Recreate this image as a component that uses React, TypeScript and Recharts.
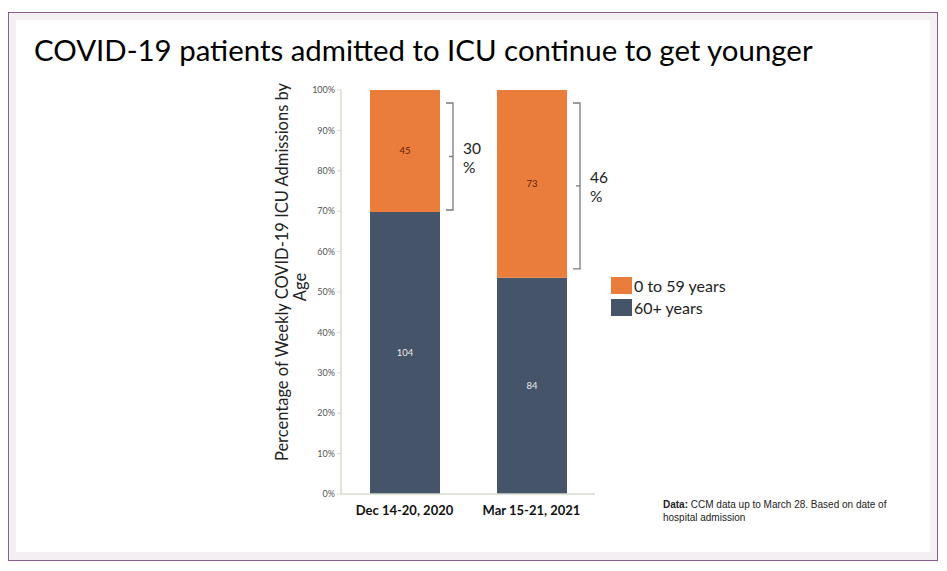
import React from "react";
import { BarChart, Bar, XAxis, YAxis, LabelList } from "recharts";

const categories = ["Dec 14-20, 2020", "Mar 15-21, 2021"];
const over60 = [104, 84];
const under60 = [45, 73];
const shareLabels = ["30", "46"];
const yTicks = [0, 0.1, 0.2, 0.3, 0.4, 0.5, 0.6, 0.7, 0.8, 0.9, 1];
const legendItems = ["0 to 59 years", "60+ years"];

const ORANGE = "#EB7D3C";
const NAVY = "#465469";
const AXIS = "#d6dccb";
const FONT = "Lato, 'Open Sans', sans-serif";

const data = categories.map((c, i) => ({
  name: c,
  older: over60[i],
  younger: under60[i],
}));

const BracketLabel = (props: any) => {
  const { x, y, width, height, index } = props;
  const bx = x + width + 13;
  const top = y + 13;
  const bottom = y + height - (index === 0 ? 2 : 9);
  const mid = (top + bottom) / 2;
  return (
    <g>
      <path
        d={`M${bx - 7},${top} L${bx},${top} L${bx},${bottom} L${bx - 7},${bottom} M${bx},${mid} L${bx - 4},${mid}`}
        stroke="#7a7a7a"
        strokeWidth={1.3}
        fill="none"
      />
      <text x={bx + 10} y={mid - 3} fontFamily={FONT} fontSize={15.5} fill="#222">
        {shareLabels[index]}
      </text>
      <text x={bx + 10} y={mid + 16} fontFamily={FONT} fontSize={15.5} fill="#222">
        %
      </text>
    </g>
  );
};

const YLabel = () => (
  <g>
    <text
      x={288}
      y={272}
      transform="rotate(-90, 288, 272)"
      textAnchor="middle"
      fontFamily={FONT}
      fontSize={16.5}
      fill="#222"
    >
      Percentage of Weekly COVID-19 ICU Admissions by
    </text>
    <text
      x={306}
      y={287}
      transform="rotate(-90, 306, 287)"
      textAnchor="middle"
      fontFamily={FONT}
      fontSize={16.5}
      fill="#222"
    >
      Age
    </text>
  </g>
);

export default function App() {
  const colors = [ORANGE, NAVY];
  return (
    <div style={{ position: "absolute", left: 0, top: 0, width: 947, height: 571, background: "#fff" }}>
      <div
        style={{
          position: "absolute",
          left: 8,
          top: 12,
          width: 928,
          height: 547,
          border: "1px solid #8c5d8e",
          background: "#f4eff3",
        }}
      />
      <div
        style={{
          position: "absolute",
          left: 16,
          top: 20,
          width: 914,
          height: 532,
          background: "#fff",
        }}
      />
      <div
        style={{
          position: "absolute",
          left: 34,
          top: 32,
          fontFamily: FONT,
          fontSize: 29.4,
          color: "#000",
          whiteSpace: "nowrap",
        }}
      >
        COVID-19 patients admitted to ICU continue to get younger
      </div>
      <div style={{ position: "absolute", left: 0, top: 0 }}>
        <BarChart
          width={947}
          height={571}
          data={data}
          stackOffset="expand"
          margin={{ top: 90, left: 281, right: 352, bottom: 47 }}
        >
          <XAxis
            dataKey="name"
            axisLine={{ stroke: AXIS, strokeWidth: 1.5 }}
            tickLine={false}
            height={30}
            tick={{ fontFamily: FONT, fontSize: 13, fontWeight: 700, fill: "#111" }}
            tickMargin={6}
          />
          <YAxis
            width={60}
            domain={[0, 1]}
            ticks={yTicks}
            tickFormatter={(v: number) => `${Math.round(v * 100)}%`}
            axisLine={{ stroke: AXIS, strokeWidth: 1.5 }}
            tickLine={{ stroke: AXIS }}
            tickSize={4}
            tick={{ fontFamily: FONT, fontSize: 9, fill: "#555" }}
            label={<YLabel />}
          />
          <Bar dataKey="older" stackId="a" fill={NAVY} barSize={70} isAnimationActive={false}>
            <LabelList
              dataKey="older"
              position="center"
              fill="#e8e8ee"
              fontSize={9.5}
              fontFamily={FONT}
            />
          </Bar>
          <Bar dataKey="younger" stackId="a" fill={ORANGE} barSize={70} isAnimationActive={false}>
            <LabelList
              dataKey="younger"
              position="center"
              fill="#5a2008"
              fontSize={9.5}
              fontFamily={FONT}
            />
            <LabelList dataKey="younger" content={<BracketLabel />} />
          </Bar>
        </BarChart>
      </div>
      <div
        style={{
          position: "absolute",
          left: 611,
          top: 274,
          fontFamily: FONT,
          fontSize: 16,
          color: "#222",
        }}
      >
        {legendItems.map((label, i) => (
          <div key={label} style={{ display: "flex", alignItems: "center", height: 22 }}>
            <div style={{ width: 21, height: 17, background: colors[i], marginRight: 2 }} />
            <span>{label}</span>
          </div>
        ))}
      </div>
      <div
        style={{
          position: "absolute",
          left: 663,
          top: 498,
          fontFamily: "'Liberation Sans', Arial, sans-serif",
          fontSize: 10,
          lineHeight: "13px",
          color: "#222",
        }}
      >
        <b>Data:</b> CCM data up to March 28. Based on date of
        <br />
        hospital admission
      </div>
    </div>
  );
}
